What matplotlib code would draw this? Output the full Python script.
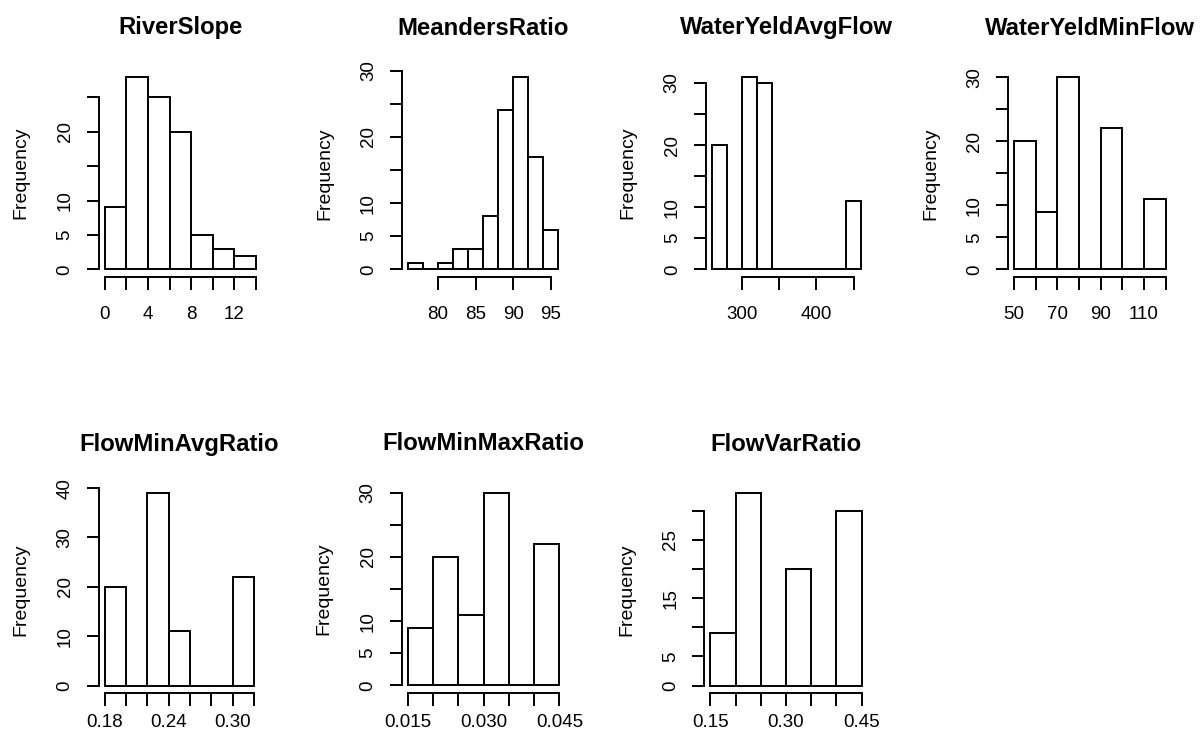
"""
Histograms of the river / flow variables, drawn in the look of R's hist() panels.
"""

import matplotlib
matplotlib.use("Agg")
import matplotlib.pyplot as plt
import numpy as np


plt.rcParams["font.family"] = ["Liberation Sans", "DejaVu Sans"]

# bin edges and counts
river_slope_breaks = [0, 2, 4, 6, 8, 10, 12, 14]
river_slope_counts = [9, 28, 25, 20, 5, 3, 2]

meanders_breaks = [76, 78, 80, 82, 84, 86, 88, 90, 92, 94, 96]
meanders_counts = [1, 0, 1, 3, 3, 8, 24, 29, 17, 6]

avg_flow_breaks = [260, 280, 300, 320, 340, 360, 380, 400, 420, 440, 460]
avg_flow_counts = [20, 0, 31, 30, 0, 0, 0, 0, 0, 11]

min_flow_breaks = [50, 60, 70, 80, 90, 100, 110, 120]
min_flow_counts = [20, 9, 30, 0, 22, 0, 11]

min_avg_breaks = [0.18, 0.20, 0.22, 0.24, 0.26, 0.28, 0.30, 0.32]
min_avg_counts = [20, 0, 39, 11, 0, 0, 22]

min_max_breaks = [0.015, 0.020, 0.025, 0.030, 0.035, 0.040, 0.045]
min_max_counts = [9, 20, 11, 30, 0, 22]

var_ratio_breaks = [0.15, 0.20, 0.25, 0.30, 0.35, 0.40, 0.45]
var_ratio_counts = [9, 33, 0, 20, 0, 30]

titles = ["RiverSlope", "MeandersRatio", "WaterYeldAvgFlow", "WaterYeldMinFlow",
          "FlowMinAvgRatio", "FlowMinMaxRatio", "FlowVarRatio"]

# axis ticks, and the labels R kept (blank = dropped for overlap)
x_ticks = [
    [0, 2, 4, 6, 8, 10, 12, 14],
    [80, 85, 90, 95],
    [300, 350, 400, 450],
    [50, 60, 70, 80, 90, 100, 110, 120],
    [0.18, 0.20, 0.22, 0.24, 0.26, 0.28, 0.30, 0.32],
    [0.015, 0.020, 0.025, 0.030, 0.035, 0.040, 0.045],
    [0.15, 0.20, 0.25, 0.30, 0.35, 0.40, 0.45],
]
x_labels = [
    ["0", "", "4", "", "8", "", "12", ""],
    ["80", "85", "90", "95"],
    ["300", "", "400", ""],
    ["50", "", "70", "", "90", "", "110", ""],
    ["0.18", "", "", "0.24", "", "", "0.30", ""],
    ["0.015", "", "", "0.030", "", "", "0.045"],
    ["0.15", "", "", "0.30", "", "", "0.45"],
]
y_ticks = [
    [0, 5, 10, 15, 20, 25],
    [0, 5, 10, 15, 20, 25, 30],
    [0, 5, 10, 15, 20, 25, 30],
    [0, 5, 10, 15, 20, 25, 30],
    [0, 10, 20, 30, 40],
    [0, 5, 10, 15, 20, 25, 30],
    [0, 5, 10, 15, 20, 25, 30],
]
y_labels = [
    ["0", "5", "10", "", "20", ""],
    ["0", "5", "10", "", "20", "", "30"],
    ["0", "5", "10", "", "20", "", "30"],
    ["0", "5", "10", "", "20", "", "30"],
    ["0", "10", "20", "30", "40"],
    ["0", "5", "10", "", "20", "", "30"],
    ["0", "5", "", "15", "", "25", ""],
]

all_breaks = [river_slope_breaks, meanders_breaks, avg_flow_breaks, min_flow_breaks,
              min_avg_breaks, min_max_breaks, var_ratio_breaks]
all_counts = [river_slope_counts, meanders_counts, avg_flow_counts, min_flow_counts,
              min_avg_counts, min_max_counts, var_ratio_counts]

# plot regions in pixels: left, top, right, bottom
W, H = 1200, 738
regions = [
    (98.6, 69.0, 262.1, 277.0),
    (401.9, 69.5, 564.2, 277.0),
    (705.8, 69.0, 867.1, 277.0),
    (1007.9, 69.5, 1171.8, 277.0),
    (98.7, 485.3, 260.0, 693.2),
    (401.6, 485.0, 565.4, 693.0),
    (704.3, 485.5, 867.7, 693.2),
]

LW = 1.4
TICK_SIZE = 13.5

fig = plt.figure(figsize=(W / 100, H / 100), dpi=100)

for i in range(len(titles)):
    left, top, right, bottom = regions[i]
    ax = fig.add_axes([left / W, 1 - bottom / H, (right - left) / W, (bottom - top) / H])

    breaks = np.array(all_breaks[i])
    counts = np.array(all_counts[i])
    ax.bar(breaks[:-1], counts, width=np.diff(breaks), align="edge",
           facecolor="white", edgecolor="black", linewidth=LW)

    # R pads the data range by 4% on each side
    xr = breaks[-1] - breaks[0]
    ax.set_xlim(breaks[0] - 0.04 * xr, breaks[-1] + 0.04 * xr)
    ax.set_ylim(-0.04 * counts.max(), 1.04 * counts.max())

    for side in ["top", "right"]:
        ax.spines[side].set_visible(False)
    ax.spines["left"].set_bounds(y_ticks[i][0], y_ticks[i][-1])
    ax.spines["bottom"].set_bounds(x_ticks[i][0], x_ticks[i][-1])
    ax.spines["left"].set_linewidth(LW)
    ax.spines["bottom"].set_linewidth(LW)

    ax.set_xticks(x_ticks[i])
    ax.set_xticklabels(x_labels[i], fontsize=TICK_SIZE)
    ax.set_yticks(y_ticks[i])
    ax.set_yticklabels(y_labels[i], fontsize=TICK_SIZE, rotation=90, va="center")
    ax.tick_params(axis="both", length=9, width=LW, color="black")
    ax.tick_params(axis="x", pad=12 if i < 4 else 6)
    ax.tick_params(axis="y", pad=9)

    ax.set_ylabel("Frequency", fontsize=14)
    ax.yaxis.set_label_coords(-69 / (right - left), 0.5)
    ax.set_title(titles[i], fontsize=17.2, fontweight="bold", pad=25)

fig.savefig("out.png", dpi=100)
